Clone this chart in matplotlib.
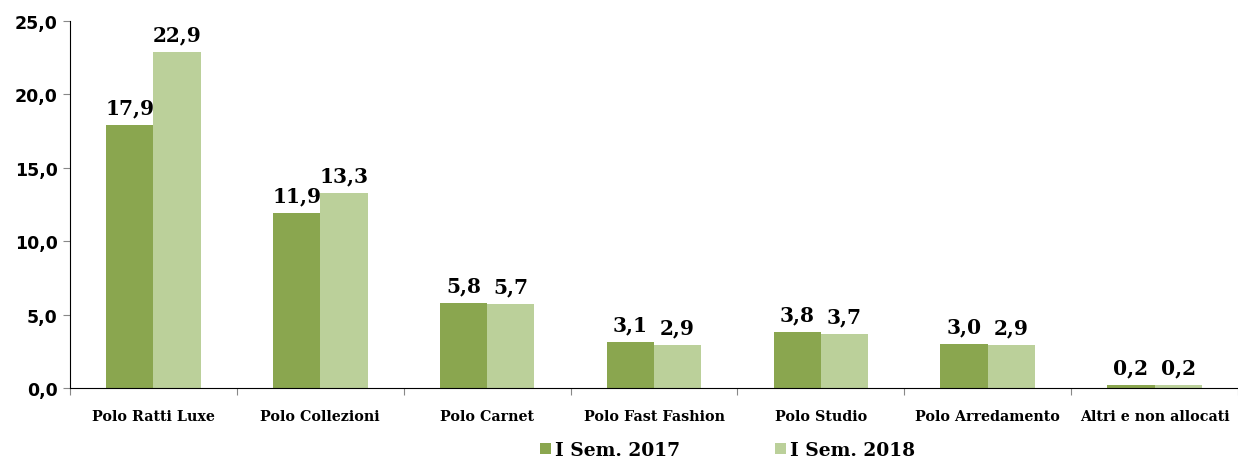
import matplotlib
matplotlib.use("Agg")
import matplotlib.pyplot as plt
import numpy as np

categories = ["Polo Ratti Luxe", "Polo Collezioni", "Polo Carnet", "Polo Fast Fashion",
              "Polo Studio", "Polo Arredamento", "Altri e non allocati"]
series_names = ["I Sem. 2017", "I Sem. 2018"]
values_2017 = [17.9, 11.9, 5.8, 3.1, 3.8, 3.0, 0.2]
values_2018 = [22.9, 13.3, 5.7, 2.9, 3.7, 2.9, 0.2]
yticks = [0, 5, 10, 15, 20, 25]

colors = ["#8AA64F", "#BBD09A"]
serif = ["DejaVu Serif"]

fig = plt.figure(figsize=(12.38, 4.6), dpi=100)
ax = fig.add_axes([70/1238, 71/460, 1168/1238, 367/460])

x = np.arange(len(categories))
w = 0.283
b1 = ax.bar(x - w/2, values_2017, w, color=colors[0], label=series_names[0])
b2 = ax.bar(x + w/2, values_2018, w, color=colors[1], label=series_names[1])

def fmt(v):
    return f"{v:.1f}".replace(".", ",")

for bars, vals in ((b1, values_2017), (b2, values_2018)):
    for r, v in zip(bars, vals):
        ax.annotate(fmt(v), (r.get_x() + r.get_width()/2, v), xytext=(0, 5.5),
                    textcoords="offset points", ha="center", va="bottom",
                    fontsize=14.5, fontweight="bold", family=serif)

ax.set_xlim(-0.5, len(categories) - 0.5)
ax.set_ylim(0, 25)
ax.set_yticks(yticks)
ax.set_yticklabels([fmt(t) for t in yticks], fontsize=12.5, fontweight="bold", family=["DejaVu Sans"])
ax.set_xticks(np.arange(len(categories) + 1) - 0.5)
ax.set_xticklabels([])
ax.set_xticks(x, minor=True)
ax.set_xticklabels(categories, minor=True, fontsize=10.3, fontweight="bold", family=serif)
ax.tick_params(axis="x", which="minor", length=0, pad=15)
ax.tick_params(axis="x", which="major", length=5, color="#888888", direction="out")
ax.tick_params(axis="y", length=5, color="#888888", direction="out", pad=4)

for s in ["top", "right"]:
    ax.spines[s].set_visible(False)
ax.spines["left"].set_color("black")
ax.spines["bottom"].set_color("black")

leg = fig.legend(handles=[b1, b2], labels=series_names, loc="center", bbox_to_anchor=(0.5875, 9/460),
                 ncol=2, frameon=False, prop={"family": serif, "weight": "bold", "size": 13.4},
                 handlelength=0.6, handleheight=0.6, handletextpad=0.2, columnspacing=5.1)

fig.savefig("out.png", dpi=100)
